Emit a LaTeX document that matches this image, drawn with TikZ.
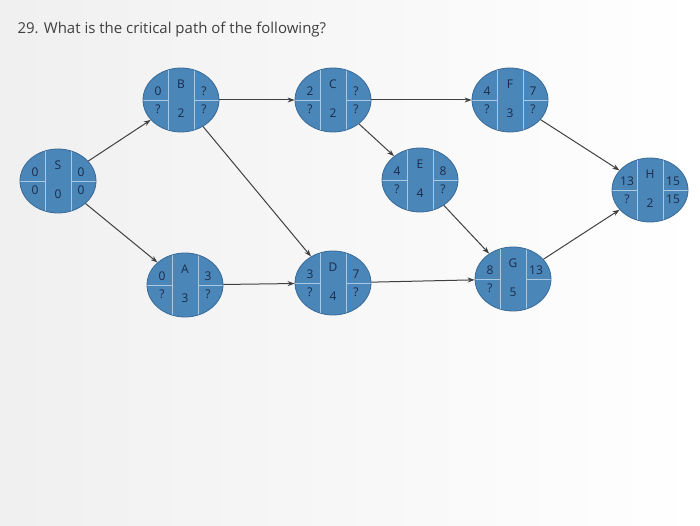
\documentclass[tikz,border=0pt]{standalone}
\usepackage{fontspec}
\setmainfont{Open Sans}
\usetikzlibrary{shapes.geometric,arrows.meta}
\definecolor{nodefill}{HTML}{4A86B8}
\definecolor{nodeedge}{HTML}{3A6A98}
\definecolor{divline}{HTML}{A9C9E3}
\definecolor{txt}{HTML}{1B2B4B}
\tikzset{
 pert/.style={ellipse,fill=nodefill,draw=nodeedge,line width=0.8pt,minimum width=76pt,minimum height=64pt,inner sep=0pt},
 cell/.style={font=\fontsize{12}{12}\selectfont,text=txt},
 divider/.style={draw=divline,line width=0.7pt},
 conn/.style={draw=black!75,line width=1pt,-{Stealth[length=7pt,width=5pt]}}
}
\newcommand\pertnode[9]{%
 \node[pert] (#1) at (#2,#3) {};
 \begin{scope}
 \clip (#1.center) ellipse (37.6pt and 31.6pt);
 \draw[divider] ([xshift=-13pt]#1.north) -- ([xshift=-13pt]#1.south);
 \draw[divider] ([xshift=13pt]#1.north) -- ([xshift=13pt]#1.south);
 \draw[divider] (#1.west) -- ([xshift=-13pt]#1.center);
 \draw[divider] (#1.east) -- ([xshift=13pt]#1.center);
 \end{scope}
 \node[cell] at ([shift={(0,-16)}]#1.center) {#4};
 \node[cell] at ([shift={(-23,-9)}]#1.center) {#5};
 \node[cell] at ([shift={(23,-9)}]#1.center) {#6};
 \node[cell] at ([shift={(-23,9)}]#1.center) {#7};
 \node[cell] at ([shift={(0,13)}]#1.center) {#8};
 \node[cell] at ([shift={(23,9)}]#1.center) {#9};
}
\begin{document}
\begin{tikzpicture}[x=1pt,y=-1pt]
\fill[left color=gray!12,right color=white] (0,0) rectangle (700,526);
\useasboundingbox (0,0) rectangle (700,526);
\node[anchor=west,font=\fontsize{15}{15}\selectfont,text=black!75] (title) at (14,30) {29. What is the critical path of the following?};
\pertnode{S}{58}{181}{S}{0}{0}{0}{0}{0}
\pertnode{B}{181}{100}{B}{0}{?}{?}{2}{?}
\pertnode{C}{333}{100}{C}{2}{?}{?}{2}{?}
\pertnode{F}{510}{100}{F}{4}{7}{?}{3}{?}
\pertnode{E}{420}{180}{E}{4}{8}{?}{4}{?}
\pertnode{H}{650}{190}{H}{13}{15}{?}{2}{15}
\pertnode{G}{513}{279}{G}{8}{13}{?}{5}{}
\pertnode{A}{185}{285}{A}{0}{3}{?}{3}{?}
\pertnode{D}{333}{283}{D}{3}{7}{?}{4}{?}
\draw[conn] (S) -- (B);
\draw[conn] (S) -- (A);
\draw[conn] (B) -- (C);
\draw[conn] (B) -- (D);
\draw[conn] (C) -- (F);
\draw[conn] (C) -- (E);
\draw[conn] (A) -- (D);
\draw[conn] (D) -- (G);
\draw[conn] (E) -- (G);
\draw[conn] (F) -- (H);
\draw[conn] (G) -- (H);
\end{tikzpicture}
\end{document}
